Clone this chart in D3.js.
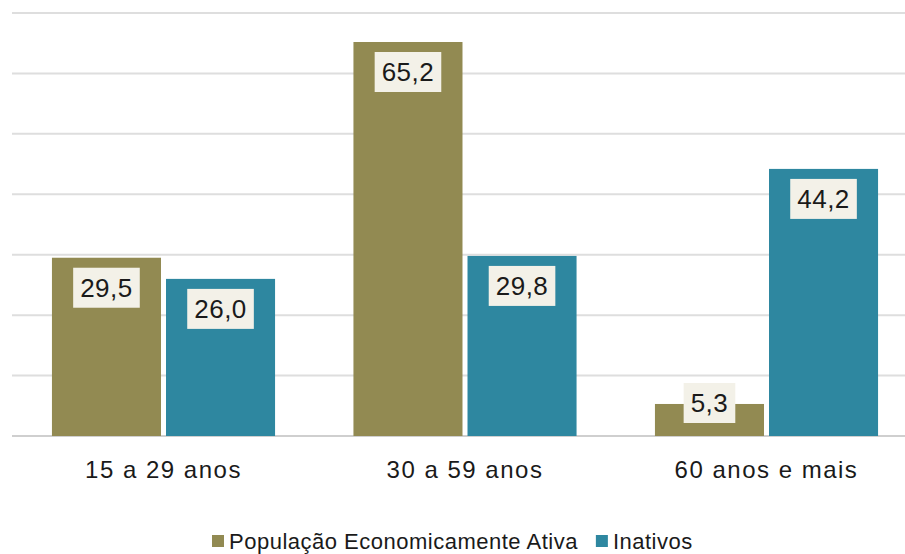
<!DOCTYPE html>
<html>
<head>
<meta charset="utf-8">
<script src="https://cdn.jsdelivr.net/npm/d3@7"></script>
<style>
  body { margin: 0; background: #fff; }
  text { font-family: "Liberation Sans", Arial, sans-serif; fill: #1a1a1a; }
</style>
</head>
<body>
<svg id="chart" width="905" height="554"></svg>
<script>
// -----------
// DATOS
// -----------
const categorias = ['15 a 29 anos', '30 a 59 anos', '60 anos e mais'];
const series = ['População Economicamente Ativa', 'Inativos'];
const pea = [29.5, 65.2, 5.3];
const inativos = [26.0, 29.8, 44.2];
const yTicks = [0, 10, 20, 30, 40, 50, 60, 70];

const colores = ['#928a52', '#2e87a0'];
const valueFormat1f = (d) => d3.format('.1f')(d).replace('.', ',');

const svg = d3.select('#chart');
const base = 436;

const x0 = d3.scaleBand().domain(categorias).range([12.75, 917.25])
  .paddingInner(0.26).paddingOuter(0.13);
const x1 = d3.scaleBand().domain(series).range([0, x0.bandwidth()]).paddingInner(0.044);
const y = d3.scaleLinear().domain([0, 70]).range([base, 13]);

// grid
svg.append('g')
  .selectAll('line')
  .data(yTicks)
  .join('line')
  .attr('x1', 12).attr('x2', 905)
  .attr('y1', (d) => y(d)).attr('y2', (d) => y(d))
  .attr('stroke', (d) => d === 0 ? '#cfcfcf' : '#dedede')
  .attr('stroke-width', 2);

const datos = categorias.map((c, i) => ({ cat: c, vals: [pea[i], inativos[i]] }));

const grupos = svg.append('g')
  .selectAll('g')
  .data(datos)
  .join('g')
  .attr('transform', (d) => `translate(${x0(d.cat)},0)`);

const barras = grupos.selectAll('g.bar')
  .data((d) => d.vals.map((v, j) => ({ serie: series[j], v, j })))
  .join('g').attr('class', 'bar');

barras.append('rect')
  .attr('x', (d) => x1(d.serie))
  .attr('width', x1.bandwidth())
  .attr('y', (d) => y(d.v))
  .attr('height', (d) => base - y(d.v))
  .attr('fill', (d) => colores[d.j]);

// etiquetas
barras.each(function (d) {
  const g = d3.select(this);
  const cx = x1(d.serie) + x1.bandwidth() / 2;
  const top = Math.min(y(d.v) + 10, base - 53);
  const box = g.append('rect')
    .attr('y', top).attr('height', 40)
    .attr('fill', '#f3f1e8');
  const t = g.append('text')
    .attr('x', cx).attr('y', top + 29)
    .attr('text-anchor', 'middle')
    .style('font-size', '26px')
    .style('letter-spacing', '0.5px')
    .text(valueFormat1f(d.v));
  const w = t.node().getComputedTextLength() + 14;
  box.attr('x', cx - w / 2).attr('width', w);
});

// eje x
svg.append('g')
  .selectAll('text')
  .data(categorias)
  .join('text')
  .attr('x', (d) => x0(d) + x0.bandwidth() / 2)
  .attr('y', 478)
  .attr('text-anchor', 'middle')
  .style('font-size', '24px')
  .style('letter-spacing', '1.5px')
  .text((d) => d);

// leyenda
const ley = svg.append('g');
let lx = 212;
series.forEach((s, i) => {
  ley.append('rect')
    .attr('x', lx).attr('y', 535).attr('width', 12).attr('height', 12)
    .attr('fill', colores[i]);
  const t = ley.append('text')
    .attr('x', lx + 17).attr('y', 549)
    .style('font-size', '22px')
    .style('letter-spacing', '0.5px')
    .text(s);
  lx += 17 + t.node().getComputedTextLength() + 18;
});
</script>
</body>
</html>
